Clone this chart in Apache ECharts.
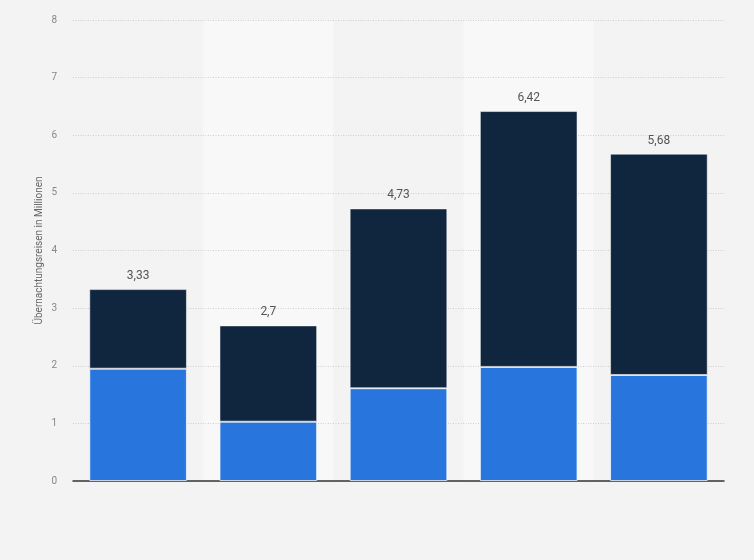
<!DOCTYPE html>
<html><head><meta charset="utf-8">
<script src="https://cdn.jsdelivr.net/npm/echarts@6/dist/echarts.min.js"></script>
<style>html,body{margin:0;padding:0;background:#f4f4f4;}#c{width:754px;height:560px;}</style>
</head><body><div id="c"></div>
<script>
const categories = ['1', '2', '3', '4', '5'];
const lowerValues = [1.95, 1.03, 1.61, 1.98, 1.84];
const totalValues = [3.33, 2.7, 4.73, 6.42, 5.68];
const yTicks = [0, 1, 2, 3, 4, 5, 6, 7, 8];
const upperValues = totalValues.map((t, i) => +(t - lowerValues[i]).toFixed(2));

const chart = echarts.init(document.getElementById('c'));
chart.setOption({
  backgroundColor: '#f3f3f3',
  animation: false,
  grid: { left: 73, right: 30, top: 20, bottom: 79 },
  xAxis: {
    type: 'category', data: categories, z: 0,
    axisLine: { lineStyle: { color: '#333', width: 1.5 } },
    axisTick: { show: false }, axisLabel: { show: false },
    splitArea: { show: true, areaStyle: { color: ['#f3f3f3', '#f8f8f8'] } }
  },
  yAxis: {
    type: 'value', min: yTicks[0], max: yTicks[yTicks.length - 1], interval: 1, z: 1,
    name: 'Übernachtungsreisen in Millionen', nameLocation: 'middle', nameGap: 29,
    nameMoveOverlap: false,
    nameTextStyle: { color: '#666', fontSize: 10, fontFamily: 'Roboto' },
    axisLine: { show: false }, axisTick: { show: false },
    axisLabel: { color: '#888', fontSize: 10, fontFamily: 'Roboto', margin: 16 },
    splitLine: { showMinLine: false, lineStyle: { color: '#cfcfcf', type: [1, 1.5], width: 1 } }
  },
  series: [
    {
      type: 'bar', stack: 's', data: lowerValues, barWidth: '75%',
      itemStyle: { color: '#2876dd', borderColor: 'rgba(255,255,255,0.7)', borderWidth: 1 }
    },
    {
      type: 'bar', stack: 's', data: upperValues, barWidth: '75%',
      itemStyle: { color: '#10263f', borderColor: 'rgba(255,255,255,0.5)', borderWidth: 1 },
      label: {
        show: true, position: 'top', distance: 7, color: '#555', fontSize: 12, fontFamily: 'Roboto',
        formatter: p => String(totalValues[p.dataIndex]).replace('.', ',')
      }
    }
  ]
});
</script></body></html>
